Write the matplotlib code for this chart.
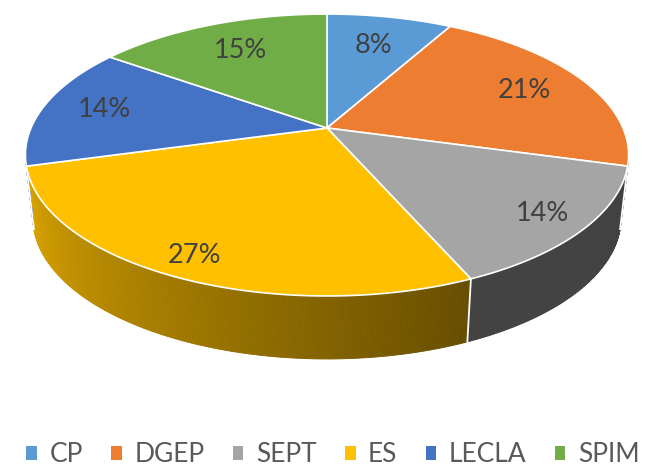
import numpy as np
import matplotlib.pyplot as plt
from matplotlib.patches import Polygon, Patch
from matplotlib.collections import PolyCollection
from matplotlib.colors import to_rgb

# data
categories = ['CP', 'DGEP', 'SEPT', 'ES', 'LECLA', 'SPIM']
shares = [8, 21, 14, 27, 14, 15]
colors = ['#5B9BD5', '#ED7D31', '#A5A5A5', '#FFC000', '#4472C4', '#70AD47']

# pseudo 3d geometry (pixel space)
CX, CY = 327, 128       # pie centre on top face
A, B = 296, 135.8       # horizontal / vertical radius
K = 0.1915              # perspective strength
DEPTH = 63              # thickness of the pie
BOTTOM_SCALE = 0.975    # bottom face is a bit further away
LABEL_R = 0.8
WALL = (101, 259)       # part of the rim whose wall faces the viewer


def project(u, v, bottom=False):
    s = 1.0 / (1.0 + K * v)
    x = CX + A * u * s
    y = CY - B * v * s
    if bottom:
        x = CX + (x - CX) * BOTTOM_SCALE
        y = y + DEPTH
    return x, y


def rim(t0, t1, n, bottom=False):
    th = np.radians(np.linspace(t0, t1, n))
    return project(np.sin(th), np.cos(th), bottom)


def shade(theta):
    # light comes from the left, so the right part of the wall is darker
    return np.clip(0.4 + 0.0047 * (theta - 156), 0.4, 0.87)


fig = plt.figure(figsize=(6.46, 4.67), dpi=100)
ax = fig.add_axes([0, 0, 1, 1])
ax.set_xlim(0, 646)
ax.set_ylim(467, 0)
ax.axis('off')

total = float(sum(shares))
bounds = np.concatenate([[0], np.cumsum(shares) / total * 360])

# side walls
for i, c in enumerate(colors):
    a0, a1 = max(bounds[i], WALL[0]), min(bounds[i + 1], WALL[1])
    if a1 <= a0:
        continue
    edges = np.linspace(a0, a1, int((a1 - a0) * 2) + 2)
    quads, cols = [], []
    for p, q in zip(edges[:-1], edges[1:]):
        xt, yt = rim(p, q, 2)
        xb, yb = rim(p, q, 2, bottom=True)
        quads.append([(xt[0], yt[0]), (xt[1], yt[1]), (xb[1], yb[1]), (xb[0], yb[0])])
        cols.append(np.array(to_rgb(c)) * shade((p + q) / 2))
    ax.add_collection(PolyCollection(quads, facecolors=cols, edgecolors=cols,
                                     linewidths=0.6, zorder=1))

for b in bounds[1:-1]:
    if WALL[0] < b < WALL[1]:
        xt, yt = rim(b, b, 1)
        xb, yb = rim(b, b, 1, bottom=True)
        ax.plot([xt[0], xb[0]], [yt[0], yb[0]], color='white', lw=1.3, zorder=2)

# top faces
for i, c in enumerate(colors):
    xs, ys = rim(bounds[i], bounds[i + 1], 120)
    verts = [(CX, CY)] + list(zip(xs, ys))
    ax.add_patch(Polygon(verts, closed=True, facecolor=c, edgecolor='white',
                         lw=1.2, joinstyle='round', zorder=3))

# percentage labels, pulled in a little more at the back
for i, val in enumerate(shares):
    mid = np.radians((bounds[i] + bounds[i + 1]) / 2)
    r = LABEL_R - 0.09 * np.cos(mid)
    x, y = project(r * np.sin(mid), r * np.cos(mid))
    ax.text(x, y, f'{val}%', ha='center', va='center', fontsize=19.5,
            color='#404040', family='Lato', zorder=4)

handles = [Patch(facecolor=c, edgecolor='none') for c in colors]
leg = ax.legend(handles, categories, loc='center', ncol=6, frameon=False,
                bbox_to_anchor=(333 / 646, 12 / 467),
                prop={'family': 'Lato', 'size': 19},
                handlelength=0.4, handleheight=0.4,
                handletextpad=0.47, columnspacing=1.08)
for t in leg.get_texts():
    t.set_color('#595959')

fig.savefig('out.png', dpi=100)
